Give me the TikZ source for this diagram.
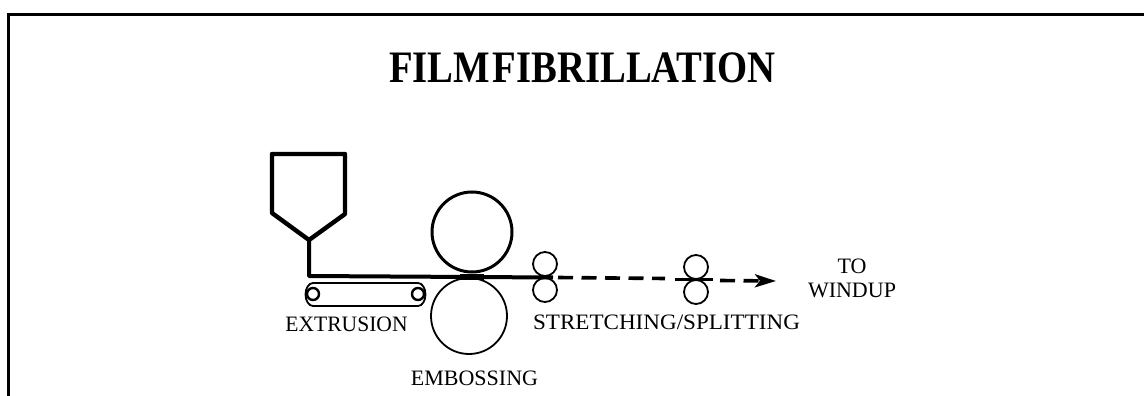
\documentclass[tikz,border=0pt]{standalone}
\usepackage{fontspec}
\setmainfont{Liberation Serif}
\usetikzlibrary{arrows.meta}
\tikzset{
  x=1pt,y=-1pt,
  frameline/.style={line width=2.8pt},
  heavy/.style={line width=4.4pt,line join=round,line cap=round},
  web/.style={line width=4pt},
  dashweb/.style={line width=3.6pt,dash pattern=on 15pt off 8.5pt},
  rollline/.style={draw,circle,line width=1.8pt,inner sep=0pt},
  belt/.style={line width=1.8pt},
  lbl/.style={inner sep=0pt,align=center,font=\fontsize{22}{24}\selectfont},
  ttl/.style={inner sep=0pt,font=\fontsize{45}{48}\selectfont\bfseries}
}
\begin{document}
\begin{tikzpicture}
\useasboundingbox (0,0) rectangle (1144,396);
\draw[frameline] (8.5,396) -- (8.5,14.7) -- (1144,14.7);
\node[ttl] (title) at (582.5,68) {\scalebox{0.86}[1]{\spaceskip=3pt FILM FIBRILLATION}};
% rollers
\node[rollline,minimum size=80pt,line width=3pt] (top) at (472,232) {};
\node[rollline,minimum size=76pt] (bot) at (469,316) {};
\node[rollline,minimum size=24pt] (a1) at (545,264) {};
\node[rollline,minimum size=24pt] (a2) at (545,290) {};
\node[rollline,minimum size=24pt] (b1) at (696,267) {};
\node[rollline,minimum size=24pt] (b2) at (696,292) {};
% belt
\node[rollline,minimum size=12pt,line width=2.4pt] (p1) at (313,294) {};
\node[rollline,minimum size=12pt,line width=2.4pt] (p2) at (418,294) {};
\draw[belt] (313,283) -- (418,283) arc[start angle=-90,end angle=90,x radius=7.5,y radius=11.5] -- (313,306) arc[start angle=90,end angle=270,x radius=7.5,y radius=11.5];
% hopper
\coordinate (h1) at (272,154); \coordinate (h2) at (345,154);
\coordinate (h3) at (345,214); \coordinate (h4) at (309,240);
\coordinate (h5) at (272,213); \coordinate (bend) at (309,276);
\coordinate (solidend) at (553,277.5);
\coordinate (dashend) at (665,278.5);
\coordinate (b0) at (675,279.5); \coordinate (b3) at (713,279.5);
\coordinate (c0) at (720,280.5); \coordinate (tip) at (776,281);
\draw[heavy] (h1) -- (h2) -- (h3) -- (h4) -- (h5) -- cycle;
\draw[web,line join=round] (h4) -- (bend) -- (solidend);
\draw[line width=6pt] (460,276.5) -- (484,276.5);
\draw[dashweb] (solidend) ++(5,0) -- (dashend);
\draw[line width=3pt] (b0) -- (b3);
\draw[dashweb,-{Stealth[length=21pt,width=13pt,inset=5pt]}] (c0) -- (tip);
% labels
\node[lbl] (ext) at (346.5,324.5) {\scalebox{0.98}[1]{EXTRUSION}};
\node[lbl] (emb) at (474.5,378) {EMBOSSING};
\node[lbl] (str) at (666.5,322) {\scalebox{1.05}[1]{STRETCHING/SPLITTING}};
\node[lbl] (tow) at (852,278) {TO\\WINDUP};
\end{tikzpicture}
\end{document}
